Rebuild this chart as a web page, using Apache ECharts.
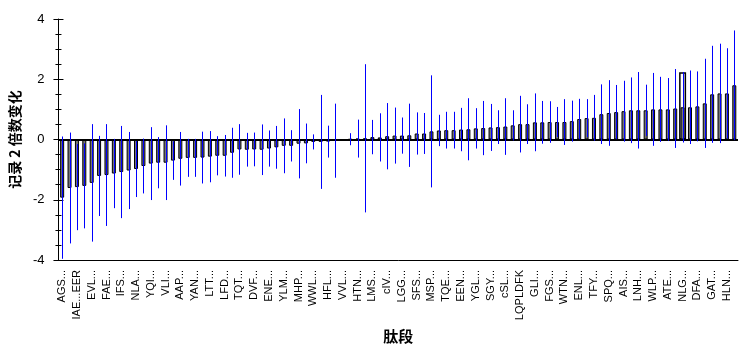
<!DOCTYPE html>
<html><head><meta charset="utf-8">
<script src="https://cdn.jsdelivr.net/npm/echarts/dist/echarts.min.js"></script>
<style>html,body{margin:0;padding:0;background:#fff}#c{width:754px;height:356px}</style>
</head><body><div id="c"></div>
<script>
// tick labels shown at every other category (even indices)
const tickLabels = ['AGS...','IAE...EER','EVL...','FAE...','IFS...','NLA...','YQI...','VLI...','AAP...','YAN...',
  'LTT...','LFD...','TQT...','DVF...','ENE...','YLM...','MHP...','WWL...','HFL...','VVL...',
  'HTN...','LMS...','cIV...','LGG...','SFS...','MSP...','TQE...','EEN...','YGL...','SGY...',
  'cSL...','LQPLDFK','GLI...','FGS...','WTN...','ENL...','TFY...','SPQ...','AIS...','LNH...',
  'WLP...','ATE...','NLG...','DFA...','GAT...','HLN...'];
// mean log2 fold change per peptide
const means = [-1.93,-1.61,-1.58,-1.54,-1.44,-1.21,-1.18,-1.13,-1.08,-1.03,
  -0.98,-0.88,-0.80,-0.77,-0.77,-0.70,-0.64,-0.61,-0.61,-0.60,
  -0.57,-0.54,-0.54,-0.44,-0.33,-0.34,-0.33,-0.34,-0.30,-0.26,
  -0.21,-0.21,-0.14,-0.13,-0.08,-0.08,-0.07,-0.04,null,0.01,
  0.03,0.04,0.08,0.07,0.11,0.13,0.13,0.14,0.20,0.20,
  0.27,0.30,0.31,0.31,0.33,0.34,0.37,0.38,0.40,0.41,
  0.43,0.47,0.51,0.51,0.57,0.57,0.58,0.58,0.58,0.61,
  0.68,0.71,0.72,0.84,0.88,0.91,0.94,0.97,0.97,0.97,
  1.00,1.00,1.00,1.03,1.07,1.07,1.10,1.20,1.50,1.53,
  1.53,1.80];
// error half-widths
const errs = [2.03,1.84,1.43,1.41,1.95,1.33,1.69,1.15,1.53,1.28,
  0.93,0.91,1.21,0.85,1.24,0.64,0.89,0.63,0.63,0.86,
  0.85,0.65,0.69,0.83,0.84,0.56,0.56,0.84,0.60,0.71,
  0.91,0.52,1.15,0.66,0.25,1.56,0.53,1.23,null,0.20,
  0.63,2.46,0.57,0.80,1.10,0.93,0.60,1.05,0.70,0.68,
  1.86,0.52,0.61,0.61,0.72,1.03,0.67,0.90,0.78,0.56,
  0.94,0.50,0.94,0.66,0.96,0.71,0.69,0.50,0.76,0.68,
  0.67,0.63,0.76,0.99,1.09,0.90,1.01,1.09,1.27,0.85,
  1.21,1.08,1.04,1.31,1.17,1.22,1.16,1.48,1.61,1.65,
  1.50,1.82];
// one extra white outlined bar
const outlineIndex = [84];
const outlineValue = [2.23];
const yTicks = {min: -4, max: 4, interval: 2};

const categories = means.map((m, i) => i % 2 === 0 ? tickLabels[i / 2] : '_' + i);
const outlineData = means.map((m, i) => {
  const k = outlineIndex.indexOf(i);
  return k >= 0 ? outlineValue[k] : null;
});
const errData = [];
means.forEach((m, i) => { if (m != null && errs[i] != null) errData.push([i, m - errs[i], m + errs[i]]); });

const chart = echarts.init(document.getElementById('c'), null, {renderer: 'canvas'});
const font = 'Liberation Sans, Arial, sans-serif';
chart.setOption({
  animation: false,
  backgroundColor: '#fff',
  grid: {left: 56, right: 16, top: 19, bottom: 96, containLabel: false},
  xAxis: [{
    type: 'category', data: categories, position: 'bottom', boundaryGap: true,
    name: '肽段', nameLocation: 'middle', nameGap: 69,
    nameTextStyle: {fontFamily: 'Noto Sans CJK SC', fontWeight: 'bold', fontSize: 15, color: '#000'},
    axisLine: {onZero: false, lineStyle: {color: '#000', width: 1}},
    axisTick: {alignWithLabel: true, interval: 0, length: 3, lineStyle: {color: '#000'}},
    axisLabel: {interval: 1, rotate: 90, margin: 10, fontFamily: font, fontSize: 11, color: '#000',
      formatter: v => v.charAt(0) === '_' ? '' : v},
    splitLine: {show: false}
  }, {
    type: 'category', data: categories, position: 'bottom', boundaryGap: true,
    axisLine: {show: false, onZero: false},
    axisTick: {alignWithLabel: true, interval: 0, inside: true, length: 3, lineStyle: {color: '#000'}},
    axisLabel: {show: false}, splitLine: {show: false}
  }],
  yAxis: [{
    type: 'value', position: 'left', min: yTicks.min, max: yTicks.max, interval: yTicks.interval,
    name: '记录 2 倍数变化', nameLocation: 'middle', nameGap: 34,
    nameTextStyle: {fontFamily: 'Noto Sans CJK SC', fontWeight: 'bold', fontSize: 14, color: '#000'},
    axisLine: {show: true, lineStyle: {color: '#000', width: 1}},
    axisTick: {show: true, length: 5, lineStyle: {color: '#000'}},
    minorTick: {show: true, splitNumber: 4, length: 3, lineStyle: {color: '#000'}},
    axisLabel: {margin: 14, fontFamily: font, fontSize: 13, color: '#000'},
    splitLine: {show: false}
  }, {
    type: 'value', position: 'left', min: yTicks.min, max: yTicks.max, interval: yTicks.interval,
    axisLine: {show: false},
    axisTick: {show: true, inside: true, length: 5, lineStyle: {color: '#000'}},
    minorTick: {show: true, splitNumber: 4, length: 3, lineStyle: {color: '#000'}},
    axisLabel: {show: false}, splitLine: {show: false}
  }],
  series: [{
    type: 'bar', xAxisIndex: 1, yAxisIndex: 0, data: outlineData, barWidth: 7, z: 1,
    itemStyle: {color: '#fff', borderColor: '#000', borderWidth: 1.5},
    silent: true
  }, {
    type: 'bar', xAxisIndex: 0, yAxisIndex: 0, data: means, barWidth: 4, z: 2,
    itemStyle: {color: '#767676', borderColor: '#000', borderWidth: 1},
    markLine: {silent: true, symbol: ['none', 'none'], label: {show: false},
      lineStyle: {color: '#000', width: 2, type: 'solid'}, data: [{yAxis: 0}]},
    silent: true
  }, {
    type: 'custom', xAxisIndex: 0, yAxisIndex: 0, z: 5, data: errData,
    encode: {x: 0, y: [1, 2]},
    renderItem: (params, api) => {
      const lo = api.coord([api.value(0), api.value(1)]);
      const hi = api.coord([api.value(0), api.value(2)]);
      const x = Math.round(lo[0]) + 0.5;
      return {type: 'line', shape: {x1: x, y1: lo[1], x2: x, y2: hi[1]},
        style: {stroke: '#0000ff', lineWidth: 1}};
    },
    silent: true
  }]
});
</script>
</body></html>
